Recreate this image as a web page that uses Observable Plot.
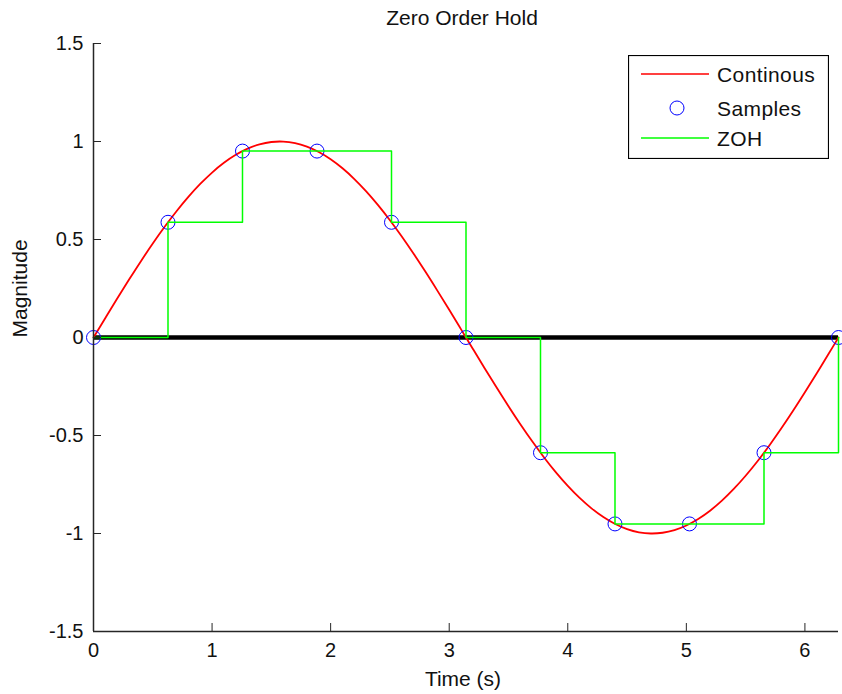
<!DOCTYPE html>
<html>
<head>
<meta charset="utf-8">
<script src="https://cdn.jsdelivr.net/npm/d3@7"></script>
<script src="https://cdn.jsdelivr.net/npm/@observablehq/plot@0.6"></script>
<style>
  html, body { margin: 0; padding: 0; background: #fff; }
  #wrap { position: relative; width: 842px; height: 694px; font-family: "Liberation Sans", Arial, sans-serif; }
  #legend { position: absolute; left: 628px; top: 55px; }
  #legend text { letter-spacing: 0.4px; }
</style>
</head>
<body>
<div id="wrap">
  <div id="chart"></div>
  <svg id="legend" width="201" height="104" font-family="Liberation Sans, Arial, sans-serif" font-size="21">
    <rect x="0.5" y="0.5" width="200" height="103" fill="#fff" stroke="#000" stroke-width="1.2"></rect>
    <line x1="13" x2="81" y1="19" y2="19" stroke="#ff0000" stroke-width="1.5"></line>
    <text x="89" y="20" dy="0.35em" fill="#111">Continous</text>
    <circle cx="49" cy="53" r="7" fill="none" stroke="#0000ff" stroke-width="1"></circle>
    <text x="89" y="54" dy="0.35em" fill="#111">Samples</text>
    <line x1="13" x2="81" y1="83" y2="83" stroke="#00ff00" stroke-width="1.5"></line>
    <text x="89" y="84" dy="0.35em" fill="#111">ZOH</text>
  </svg>
</div>
<script>
// Continuous signal (time in seconds, magnitude)
const contTime = [0.0, 0.1, 0.2, 0.3, 0.4, 0.5, 0.6, 0.7, 0.8, 0.9, 1.0, 1.1, 1.2, 1.3, 1.4, 1.5, 1.6, 1.7, 1.8, 1.9,
  2.0, 2.1, 2.2, 2.3, 2.4, 2.5, 2.6, 2.7, 2.8, 2.9, 3.0, 3.1, 3.2, 3.3, 3.4, 3.5, 3.6, 3.7, 3.8, 3.9,
  4.0, 4.1, 4.2, 4.3, 4.4, 4.5, 4.6, 4.7, 4.8, 4.9, 5.0, 5.1, 5.2, 5.3, 5.4, 5.5, 5.6, 5.7, 5.8, 5.9,
  6.0, 6.1, 6.2, 6.2832];
const contValue = [0, 0.0998, 0.1987, 0.2955, 0.3894, 0.4794, 0.5646, 0.6442, 0.7174, 0.7833,
  0.8415, 0.8912, 0.9320, 0.9636, 0.9854, 0.9975, 0.9996, 0.9917, 0.9738, 0.9463,
  0.9093, 0.8632, 0.8085, 0.7457, 0.6755, 0.5985, 0.5155, 0.4274, 0.3350, 0.2392,
  0.1411, 0.0416, -0.0584, -0.1577, -0.2555, -0.3508, -0.4425, -0.5298, -0.6119, -0.6878,
  -0.7568, -0.8183, -0.8716, -0.9162, -0.9516, -0.9775, -0.9937, -0.9999, -0.9962, -0.9825,
  -0.9589, -0.9258, -0.8835, -0.8323, -0.7728, -0.7055, -0.6313, -0.5507, -0.4646, -0.3739,
  -0.2794, -0.1822, -0.0831, 0];

// Sampled signal (10 samples per period plus the end point)
const sampleTime = [0, 0.6283, 1.2566, 1.8850, 2.5133, 3.1416, 3.7699, 4.3982, 5.0265, 5.6549, 6.2832];
const sampleValue = [0, 0.5878, 0.9511, 0.9511, 0.5878, 0, -0.5878, -0.9511, -0.9511, -0.5878, 0];

// Axis ticks
const xTicks = [0, 1, 2, 3, 4, 5, 6];
const yTicks = [-1.5, -1, -0.5, 0, 0.5, 1, 1.5];
const zeroLevel = [0];

const continuous = contTime.map((t, i) => ({t, v: contValue[i]}));
const samples = sampleTime.map((t, i) => ({t, v: sampleValue[i]}));

const axisColor = "#262626";
const wordStyle = {fontSize: 21, fill: "#111", lineAnchor: "middle", style: "letter-spacing:0.4px"};

const chart = Plot.plot({
  width: 842,
  height: 694,
  marginLeft: 93,
  marginRight: 4,
  marginTop: 43,
  marginBottom: 63,
  style: {fontSize: "20px", fontFamily: "'Liberation Sans', Arial, sans-serif", color: "#111", background: "#fff"},
  x: {domain: [0, 6.2832]},
  y: {domain: [-1.5, 1.5]},
  marks: [
    Plot.ruleY(zeroLevel, {stroke: "#000", strokeWidth: 4.5}),
    Plot.line(continuous, {x: "t", y: "v", stroke: "#ff0000", strokeWidth: 1.8, curve: "catmull-rom"}),
    Plot.dot(samples, {x: "t", y: "v", r: 7, stroke: "#0000ff", strokeWidth: 1, fill: "none"}),
    Plot.line(samples, {x: "t", y: "v", stroke: "#00ff00", strokeWidth: 1.5, curve: "step-after"}),
    Plot.ruleX([0], {stroke: axisColor, strokeWidth: 1.5}),
    Plot.ruleY([-1.5], {stroke: axisColor, strokeWidth: 1.5}),
    Plot.axisY({ticks: yTicks, tickSize: -8, tickPadding: 18, tickFormat: d => String(d), stroke: axisColor, label: null, fill: "#111"}),
    Plot.axisX({ticks: xTicks, tickSize: -8, tickPadding: 19, tickFormat: d => String(d), stroke: axisColor, label: null, fill: "#111"}),
    Plot.text(["Zero Order Hold"], {frameAnchor: "top", dy: -25, dx: -4, ...wordStyle}),
    Plot.text(["Time (s)"], {frameAnchor: "bottom", dy: 48, dx: -3, ...wordStyle}),
    Plot.text(["Magnitude"], {frameAnchor: "left", dx: -73, rotate: -90, ...wordStyle})
  ]
});

document.getElementById("chart").appendChild(chart);
</script>
</body>
</html>
